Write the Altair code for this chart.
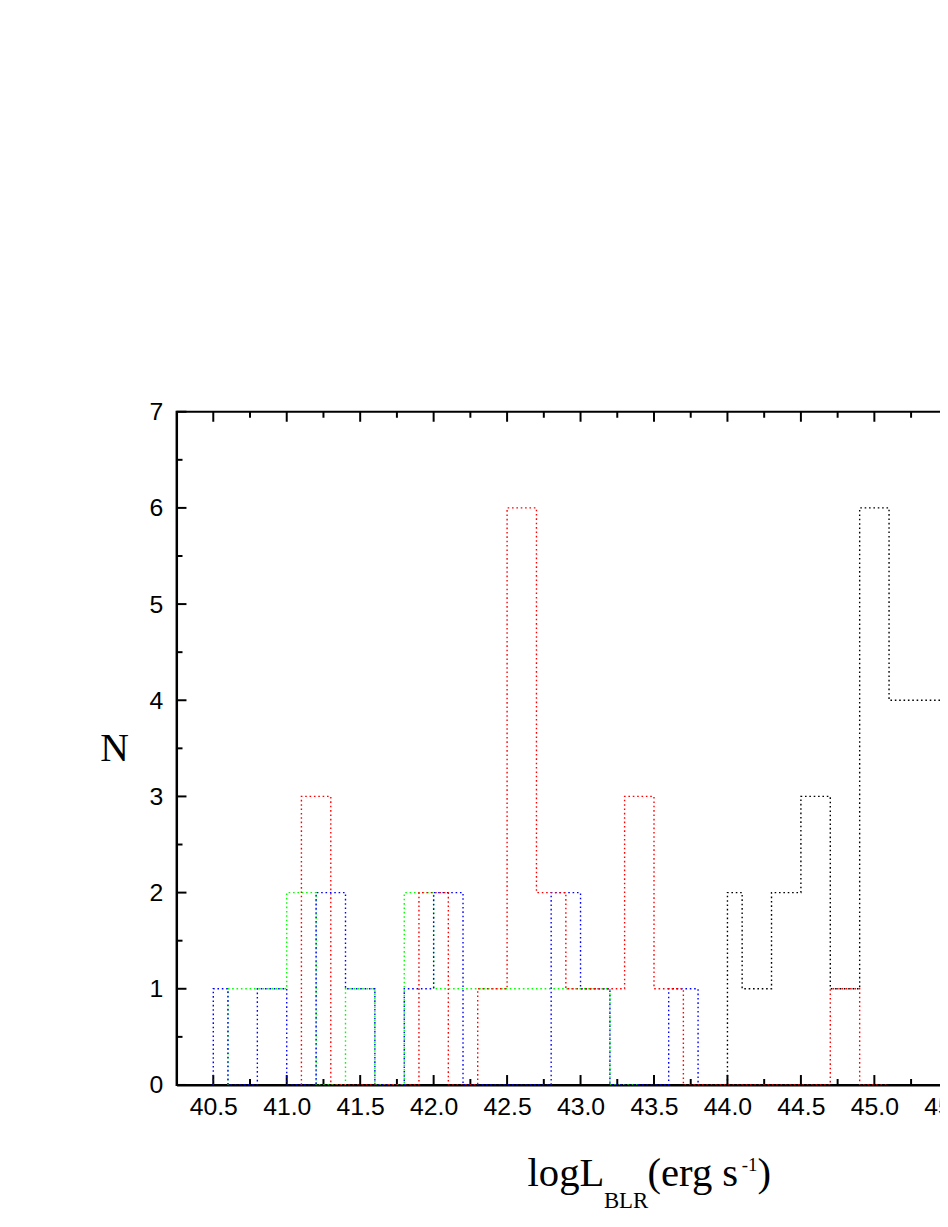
import altair as alt
import pandas as pd

# ---------------- data ----------------
# step-histogram outlines: bin edges and counts per series
black_edges = [44.0, 44.1, 44.3, 44.5, 44.7, 44.9, 45.1, 45.3, 45.5]
black_counts = [2, 1, 2, 3, 1, 6, 4, 4]

green_edges = [40.6, 40.8, 41.0, 41.2, 41.4, 41.6, 41.8, 42.0, 42.2, 42.4, 42.6, 42.8, 43.0, 43.2, 43.4]
green_counts = [1, 1, 2, 0, 1, 0, 2, 1, 1, 1, 1, 1, 1, 0]

blue_edges = [40.5, 40.6, 40.8, 41.0, 41.2, 41.4, 41.6, 41.8, 42.0, 42.2, 42.4, 42.6, 42.8, 43.0, 43.2, 43.4, 43.6, 43.8]
blue_counts = [1, 0, 1, 0, 2, 1, 0, 1, 2, 0, 0, 0, 2, 1, 0, 0, 1]

red_edges = [41.1, 41.3, 41.5, 41.7, 41.9, 42.1, 42.3, 42.5, 42.7, 42.9, 43.1, 43.3, 43.5, 43.7,
             43.9, 44.1, 44.3, 44.5, 44.7, 44.9, 45.1]
red_counts = [3, 0, 0, 0, 2, 0, 1, 6, 2, 1, 1, 3, 1, 0, 0, 0, 0, 0, 1, 0]

x_major = [40.5, 41.0, 41.5, 42.0, 42.5, 43.0, 43.5, 44.0, 44.5, 45.0, 45.5, 46.0]
x_minor = [40.75, 41.25, 41.75, 42.25, 42.75, 43.25, 43.75, 44.25, 44.75, 45.25, 45.75]
y_major = [0, 1, 2, 3, 4, 5, 6, 7]
y_minor = [0.5, 1.5, 2.5, 3.5, 4.5, 5.5, 6.5]

X_DOMAIN = [40.25, 46.25]
Y_DOMAIN = [0, 7]

# ---------------- layout / style ----------------
W, H = 889, 679
PAD_L, PAD_T = 170, 402
VISIBLE_W = 940            # page width minus body margin; the rest is cut off
MAJ, MIN = 10, 6
DASH = [1.6, 2.8]
LABEL_FONT = "Liberation Sans Narrow, Liberation Sans"
LABEL_FS = 25

xs = alt.Scale(domain=X_DOMAIN, nice=False, zero=False)
ys = alt.Scale(domain=Y_DOMAIN, nice=False, zero=False)

x_axis = alt.Axis(values=x_major, format=".1f", title=None, ticks=False, tickSize=0,
                  labelPadding=10, labelFont=LABEL_FONT, labelFontSize=LABEL_FS,
                  labelColor="black", domainColor="black", domainWidth=2, grid=False,
                  labelFlush=False, labelOverlap=False)
y_axis = alt.Axis(values=y_major, format="d", title="N", titleAngle=0,
                  titleFont="Liberation Serif", titleFontSize=40, titleFontWeight="normal",
                  titleColor="black", titleX=-63, titleY=340, titleAlign="center",
                  titleBaseline="middle", ticks=False, tickSize=0, labelPadding=14,
                  labelFont=LABEL_FONT, labelFontSize=LABEL_FS, labelColor="black",
                  domainColor="black", domainWidth=2, grid=False, labelFlush=False,
                  labelOverlap=False)


def outline(edges, counts):
    pts = [(edges[0], 0)]
    for i, c in enumerate(counts):
        pts.append((edges[i], c))
        pts.append((edges[i + 1], c))
    pts.append((edges[-1], 0))
    return pd.DataFrame({"x": [p[0] for p in pts], "y": [p[1] for p in pts],
                         "i": list(range(len(pts)))})


layers = []

# inward tick marks (bottom, top, left)
xmaj = pd.DataFrame({"v": x_major})
xmin = pd.DataFrame({"v": x_minor})
ymaj = pd.DataFrame({"v": y_major})
ymin = pd.DataFrame({"v": y_minor})
for df, L in [(xmaj, MAJ), (xmin, MIN)]:
    layers.append(alt.Chart(df).mark_rule(color="black", strokeWidth=2, clip=True).encode(
        x=alt.X("v:Q", scale=xs, axis=x_axis), y=alt.value(H), y2=alt.value(H - L)))
    layers.append(alt.Chart(df).mark_rule(color="black", strokeWidth=2, clip=True).encode(
        x=alt.X("v:Q", scale=xs, axis=x_axis), y=alt.value(0), y2=alt.value(L)))
for df, L in [(ymaj, MAJ), (ymin, MIN)]:
    layers.append(alt.Chart(df).mark_rule(color="black", strokeWidth=2).encode(
        y=alt.Y("v:Q", scale=ys, axis=y_axis), x=alt.value(0), x2=alt.value(L)))

# histograms: bottom to top
for edges, counts, color in [(black_edges, black_counts, "#000000"),
                             (green_edges, green_counts, "#00FF00"),
                             (blue_edges, blue_counts, "#0000FF"),
                             (red_edges, red_counts, "#FF0000")]:
    layers.append(alt.Chart(outline(edges, counts)).mark_line(
        color=color, strokeDash=DASH, strokeWidth=1.4, clip=True).encode(
        x=alt.X("x:Q", scale=xs, axis=x_axis),
        y=alt.Y("y:Q", scale=ys, axis=y_axis),
        order="i:Q"))

# x-axis title with subscript / superscript
one = pd.DataFrame({"k": [0]})
title_parts = [("logL", 354, 781, 41), ("BLR", 431, 803, 23), ("(erg s", 475, 781, 41),
               ("-1", 570, 766, 19), (")", 586, 781, 41)]
for txt, tx, ty, fs in title_parts:
    layers.append(alt.Chart(one).mark_text(text=txt, font="Liberation Serif", fontSize=fs,
                                           align="left", baseline="alphabetic",
                                           color="black").encode(
        x=alt.value(tx), y=alt.value(ty)))

chart = alt.layer(*layers).properties(
    width=W, height=H,
    padding={"left": PAD_L, "top": PAD_T, "right": VISIBLE_W - PAD_L - W, "bottom": 130},
    autosize=alt.AutoSizeParams(type="none"),
    background="white",
).configure_view(stroke="black", strokeWidth=2)

chart.save("out.html", embed_options={"renderer": "svg", "actions": False})
